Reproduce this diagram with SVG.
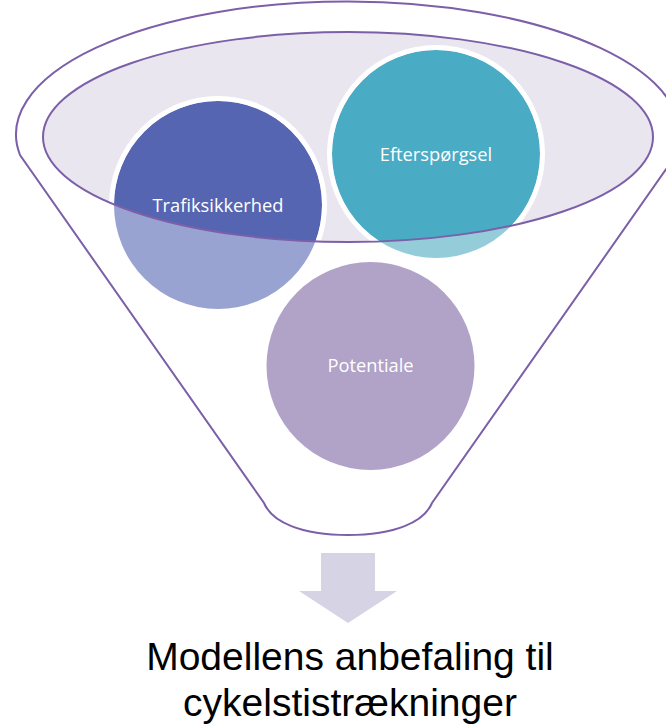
<svg xmlns="http://www.w3.org/2000/svg" width="666" height="724" viewBox="0 0 666 724">
  <style>
    .outline { fill: none; stroke: #7B5FA8; stroke-width: 2; }
    .label { font-family: "Open Sans", "Noto Sans", sans-serif; font-size: 18.3px; fill: #FFFFFF; text-anchor: middle; }
    .ring { fill: none; stroke: #FFFFFF; stroke-width: 5; }
    .caption { font-family: "Liberation Sans", Arial, sans-serif; font-size: 39px; fill: #000000; text-anchor: middle; }
  </style>
  <defs>
    <clipPath id="rimClip">
      <ellipse cx="348" cy="137" rx="305" ry="105"/>
    </clipPath>
  </defs>
  <rect width="666" height="724" fill="#FFFFFF"/>

  <g id="funnel">
    <path class="outline" d="M 20,155 A 332 133 0 1 1 676,155 L 432,503 C 424,522 395,535 348,535 C 301,535 272,522 264,503 Z"/>
    <ellipse id="rim-fill" cx="348" cy="137" rx="305" ry="105" fill="#E9E6EF"/>
  </g>

  <g id="node-trafiksikkerhed">
    <circle cx="218" cy="205" r="104" fill="#99A3D2"/>
    <g clip-path="url(#rimClip)">
      <circle cx="218" cy="205" r="104" fill="#5565B1"/>
      <circle class="ring" cx="218" cy="205" r="106.5"/>
    </g>
    <text class="label" x="218" y="212">Trafiksikkerhed</text>
  </g>

  <g id="node-efterspoergsel">
    <circle cx="436" cy="154" r="104" fill="#94CCDA"/>
    <g clip-path="url(#rimClip)">
      <circle cx="436" cy="154" r="104" fill="#4AABC4"/>
      <circle class="ring" cx="436" cy="154" r="106.5"/>
    </g>
    <text class="label" x="436" y="161">Efterspørgsel</text>
  </g>

  <g id="node-potentiale">
    <circle cx="370.5" cy="366" r="104" fill="#B1A2C8"/>
    <text class="label" x="370.5" y="372">Potentiale</text>
  </g>

  <ellipse id="rim-outline" class="outline" cx="348" cy="137" rx="305" ry="105"/>

  <g id="connectors">
    <polygon points="321,553 375,553 375,591 397,591 348,623 299,591 321,591" fill="#D6D3E4"/>
  </g>

  <g id="result">
    <text class="caption"><tspan x="350" y="670">Modellens anbefaling til</tspan><tspan x="350" y="715.5">cykelstistrækninger</tspan></text>
  </g>
</svg>
